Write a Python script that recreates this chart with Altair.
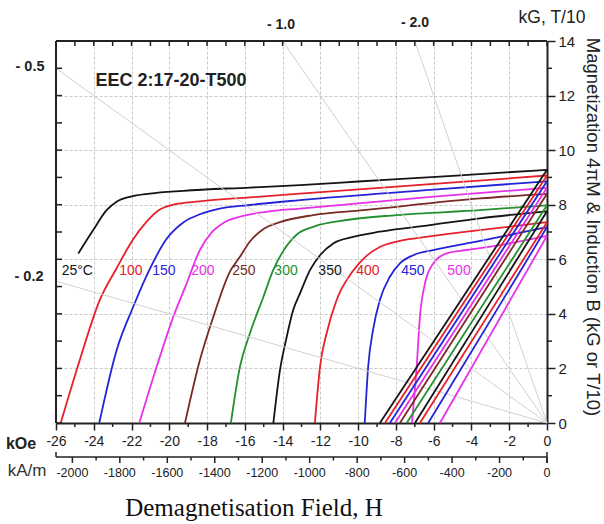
import altair as alt
import pandas as pd

# ---------------- data ----------------
temps = [25, 100, 150, 200, 250, 300, 350, 400, 450, 500]
temp_text = ["25°C", "100", "150", "200", "250", "300", "350", "400", "450", "500"]
colors = ["#141414", "#e8202a", "#2424d6", "#e830e8", "#7a2a24",
          "#249030", "#141414", "#e8202a", "#2424d6", "#e830e8"]

# intrinsic demagnetisation curves 4piM (kG) vs H (kOe)
H_25 = [-24.82, -24.03, -23.32, -22.79, -22.09, -21.03, -19.26, -15.73, -13.08, -10.0, -5.0, 0.0]
M_25 = [6.21, 7.07, 7.80, 8.11, 8.29, 8.41, 8.51, 8.63, 8.72, 8.85, 9.06, 9.28]

H_100 = [-25.75, -24.74, -23.68, -22.79, -21.93, -21.2, -20.6, -19.8, -18.4, -15.73, -13.08, -6.0, 0.0]
M_100 = [0.0, 2.31, 4.51, 5.67, 6.72, 7.38, 7.78, 8.0, 8.12, 8.27, 8.41, 8.76, 9.07]

H_150 = [-23.71, -22.79, -21.91, -21.03, -20.14, -19.26, -18.38, -17.5, -15.73, -13.08, -6.0, 0.0]
M_150 = [0.0, 2.67, 4.26, 5.65, 6.75, 7.35, 7.65, 7.83, 7.99, 8.17, 8.55, 8.86]

H_200 = [-21.59, -20.67, -19.79, -19.08, -18.38, -17.8, -17.14, -16.26, -14.85, -13.08, -6.0, 0.0]
M_200 = [0.0, 2.06, 3.89, 5.12, 6.34, 6.95, 7.33, 7.56, 7.74, 7.86, 8.3, 8.62]

H_250 = [-19.17, -18.38, -17.67, -16.79, -16.26, -15.73, -15.03, -14.14, -12.38, -9.73, -3.55, 0.0]
M_250 = [0.0, 2.31, 3.89, 5.55, 6.09, 6.65, 7.1, 7.36, 7.62, 7.8, 8.23, 8.4]

H_300 = [-16.74, -16.26, -15.73, -15.03, -14.5, -13.97, -13.26, -12.38, -10.61, -7.96, -3.55, 0.0]
M_300 = [0.0, 2.06, 3.29, 4.6, 5.6, 6.3, 6.9, 7.19, 7.44, 7.62, 7.8, 7.98]

H_350 = [-14.49, -14.14, -13.82, -13.44, -13.08, -12.55, -12.02, -11.32, -10.26, -8.85, -6.2, -3.55, 0.0]
M_350 = [0.0, 1.94, 3.04, 4.14, 4.75, 5.6, 6.15, 6.58, 6.82, 7.01, 7.25, 7.5, 7.76]

H_400 = [-12.29, -12.02, -11.67, -11.14, -10.3, -9.6, -8.85, -7.9, -6.2, -4.25, 0.0]
M_400 = [0.0, 2.06, 3.29, 4.51, 5.55, 6.1, 6.45, 6.66, 6.84, 7.01, 7.36]

H_450 = [-9.65, -9.47, -9.2, -8.85, -8.32, -7.79, -7.08, -6.02, -4.25, -2.49, 0.0]
M_450 = [0.0, 2.06, 3.45, 4.51, 5.36, 5.85, 6.15, 6.34, 6.58, 6.82, 7.18]

H_500 = [-7.15, -6.9, -6.73, -6.46, -6.02, -5.31, -4.25, -2.49, 0.0]
M_500 = [0.0, 2.06, 3.89, 5.12, 5.85, 6.22, 6.34, 6.52, 6.86]

intrinsic = [(H_25, M_25), (H_100, M_100), (H_150, M_150), (H_200, M_200), (H_250, M_250),
             (H_300, M_300), (H_350, M_350), (H_400, M_400), (H_450, M_450), (H_500, M_500)]

# normal (induction) lines: remanence Br (kG) and coercivity HcB (kOe)
Br = [9.28, 9.07, 8.86, 8.62, 8.40, 7.98, 7.76, 7.36, 7.18, 6.86]
HcB = [-8.85, -8.58, -8.32, -8.05, -7.79, -7.43, -6.99, -6.73, -6.29, -5.67]

# temperature label anchors
label_H = [-24.87, -22.03, -20.29, -18.22, -16.05, -13.82, -11.49, -9.48, -7.10, -4.66]
label_B = 5.57

# load lines (permeance coefficient) and where they meet the frame
load_name = ["-0.2", "-0.5", "-1.0", "-2.0"]
load_end_H = [-26.0, -26.0, -14.0, -7.0]
load_end_B = [5.2, 13.0, 14.0, 14.0]

koe_labels = list(range(-26, 1, 2))
koe_minor = list(range(-25, 0, 2))
koe_all = list(range(-26, 1, 1))
kg_labels = list(range(0, 15, 2))
kg_minor = list(range(1, 14, 2))
kg_all = list(range(0, 15, 1))
kam_labels = list(range(-2000, 1, 200))
kam_minor = list(range(-1900, 0, 200))
KAM_PER_KOE = 79.5775

# ---------------- tables ----------------
curve_rows = []
for t, (hs, ms) in zip(temps, intrinsic):
    for h, m in zip(hs, ms):
        curve_rows.append({"T": str(t), "H": h, "B": m})
curves_df = pd.DataFrame(curve_rows)

bline_rows = []
for t, b, hc in zip(temps, Br, HcB):
    bline_rows.append({"T": str(t), "H": 0.0, "B": b})
    bline_rows.append({"T": str(t), "H": hc, "B": 0.0})
blines_df = pd.DataFrame(bline_rows)

labels_df = pd.DataFrame({"T": [str(t) for t in temps], "txt": temp_text,
                          "H": label_H, "B": [label_B] * len(temps)})

load_rows = []
for n, h, b in zip(load_name, load_end_H, load_end_B):
    load_rows.append({"id": n, "H": h, "B": b})
    load_rows.append({"id": n, "H": 0.0, "B": 0.0})
load_df = pd.DataFrame(load_rows)

# ---------------- chart ----------------
W, HT = 491, 382
KAM_Y = HT + 34
FONT = "Liberation Sans"
INK = "#222222"
xs = alt.Scale(domain=[-26, 0], nice=False, zero=False)
ys = alt.Scale(domain=[0, 14], nice=False, zero=False)
cs = alt.Scale(domain=[str(t) for t in temps], range=colors)

x_axis = alt.Axis(orient="bottom", values=koe_labels, labelExpr="'' + datum.value",
                  tickSize=7, tickColor=INK, tickWidth=1.5, domainColor=INK, domainWidth=2,
                  labelFont=FONT, labelFontSize=14, labelColor=INK, labelPadding=4,
                  labelFlush=False, labelOverlap=False, grid=True, gridColor="#c9c9c9",
                  gridDash=[3, 2], gridWidth=1, title=None)
y_axis = alt.Axis(orient="right", values=kg_labels, tickSize=8, tickColor=INK, tickWidth=1.5,
                  domainColor=INK, domainWidth=2, labelFont=FONT, labelFontSize=15,
                  labelColor=INK, labelPadding=3, labelFlush=False, labelOverlap=False,
                  grid=True, gridColor="#c9c9c9", gridDash=[3, 2], gridWidth=1, title=None)

X = lambda: alt.X("H:Q", scale=xs, axis=x_axis)
Y = lambda: alt.Y("B:Q", scale=ys, axis=y_axis)
C = lambda: alt.Color("T:N", scale=cs, legend=None)

curve_layer = alt.Chart(curves_df).mark_line(strokeWidth=1.8, interpolate="monotone").encode(
    x=X(), y=Y(), color=C())

load_layer = alt.Chart(load_df).mark_line(color="#d0d0d0", strokeWidth=1).encode(
    x=X(), y=Y(), detail="id:N")

bline_layer = alt.Chart(blines_df).mark_line(strokeWidth=1.8).encode(x=X(), y=Y(), color=C())

label_layer = alt.Chart(labels_df).mark_text(font=FONT, fontSize=14, align="center",
                                             baseline="middle").encode(
    x=X(), y=Y(), text="txt:N", color=C())

one = pd.DataFrame({"a": [0]})
frame_top = alt.Chart(one).mark_rule(color=INK, strokeWidth=2).encode(
    x=alt.value(0), x2=alt.value(W), y=alt.value(0))
frame_left = alt.Chart(one).mark_rule(color=INK, strokeWidth=2).encode(
    x=alt.value(0), y=alt.value(0), y2=alt.value(HT))

top_ticks = alt.Chart(pd.DataFrame({"H": koe_all})).mark_rule(color=INK, strokeWidth=1.5).encode(
    x=X(), y=alt.value(0), y2=alt.value(5))
bottom_minor = alt.Chart(pd.DataFrame({"H": koe_minor})).mark_rule(color=INK, strokeWidth=1.5).encode(
    x=X(), y=alt.value(HT), y2=alt.value(HT + 4))
left_ticks = alt.Chart(pd.DataFrame({"B": kg_all})).mark_rule(color=INK, strokeWidth=1.5).encode(
    y=Y(), x=alt.value(0), x2=alt.value(6))
right_minor = alt.Chart(pd.DataFrame({"B": kg_minor})).mark_rule(color=INK, strokeWidth=1.5).encode(
    y=Y(), x=alt.value(W), x2=alt.value(W + 5))

# second (kA/m) scale, drawn on the same x scale after unit conversion
kam_line = alt.Chart(one).mark_rule(color=INK, strokeWidth=1.5).encode(
    x=alt.value(0), x2=alt.value(W), y=alt.value(KAM_Y))
kam_end_l = alt.Chart(one).mark_rule(color=INK, strokeWidth=1.5).encode(
    x=alt.value(0), y=alt.value(KAM_Y - 5), y2=alt.value(KAM_Y))
kam_end_r = alt.Chart(one).mark_rule(color=INK, strokeWidth=1.5).encode(
    x=alt.value(W), y=alt.value(KAM_Y - 5), y2=alt.value(KAM_Y + 6))
kam_major = alt.Chart(pd.DataFrame({"kam": kam_labels})).transform_calculate(
    H="datum.kam / %f" % KAM_PER_KOE).mark_rule(color=INK, strokeWidth=1.5).encode(
    x=X(), y=alt.value(KAM_Y), y2=alt.value(KAM_Y + 6))
kam_minor_l = alt.Chart(pd.DataFrame({"kam": kam_minor})).transform_calculate(
    H="datum.kam / %f" % KAM_PER_KOE).mark_rule(color=INK, strokeWidth=1.5).encode(
    x=X(), y=alt.value(KAM_Y), y2=alt.value(KAM_Y + 3.5))
kam_text = alt.Chart(pd.DataFrame({"kam": kam_labels})).transform_calculate(
    H="datum.kam / %f" % KAM_PER_KOE, lab="'' + datum.kam").mark_text(
    font=FONT, fontSize=12.5, color=INK, align="center", baseline="middle").encode(
    x=X(), y=alt.value(KAM_Y + 16), text="lab:N")


def note(txt, px, py, size, bold=False, font=FONT, color=INK, angle=0):
    kw = dict(text=txt, font=font, fontSize=size, align="center", baseline="middle", color=color)
    if bold:
        kw["fontWeight"] = "bold"
    if angle:
        kw["angle"] = angle
    return alt.Chart(one).mark_text(**kw).encode(x=alt.value(px), y=alt.value(py))


notes = [
    note("EEC 2:17-20-T500", 115, 40, 18, bold=True),
    note("- 0.5", -26, 26, 14.5, bold=True),
    note("- 0.2", -27, 236, 14.5, bold=True),
    note("- 1.0", 225, -16, 14, bold=True),
    note("- 2.0", 359, -18, 14, bold=True),
    note("kG, T/10", 496, -23, 17.5),
    note("kOe", -35, 403, 16, bold=True),
    note("kA/m", -29, 430, 17, color="#333333"),
    note("Demagnetisation Field, H", 198, 467, 25, font="Liberation Serif", color="#111111"),
    note("Magnetization 4πM & Induction B (kG or T/10)", 537, 186, 18.5, angle=90),
]

chart = alt.layer(curve_layer, load_layer, bline_layer, label_layer, frame_top, frame_left,
                  top_ticks, bottom_minor, left_ticks, right_minor,
                  kam_line, kam_end_l, kam_end_r, kam_major, kam_minor_l, kam_text,
                  *notes).properties(
    width=W, height=HT,
    padding={"left": 56, "top": 41, "right": 57, "bottom": 101},
    autosize=alt.AutoSizeParams(type="none"),
    background="white",
).configure_view(stroke=None)

chart.save("out.html", embed_options={"renderer": "svg", "actions": False})
